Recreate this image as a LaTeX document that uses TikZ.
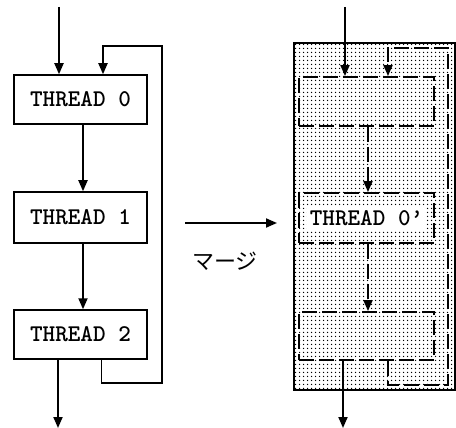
\documentclass[tikz,border=0pt]{standalone}
\usepackage{fontspec}
\newfontfamily\cjk{Noto Sans CJK JP}
\usetikzlibrary{arrows.meta,patterns.meta}
\begin{document}
\begin{tikzpicture}[x=1pt,y=-1pt,
  thr/.style={draw,line width=1.5pt,minimum width=133pt,inner sep=0pt,
    font=\fontsize{24}{26}\selectfont\ttfamily\bfseries},
  dbox/.style={draw,line width=1.9pt,dash pattern=on 15pt off 5pt,
    minimum width=135pt,inner sep=0pt},
  arr/.style={line width=1.9pt,-{Triangle[length=11pt,width=9pt]}},
  darr/.style={arr,dash pattern=on 15pt off 5pt},
]
\useasboundingbox (0,0) rectangle (456,428);
% ---------- left ----------
\node[thr,minimum height=49pt] (t0) at (80.5,99.5) {THREAD 0};
\node[thr,minimum height=51pt] (t1) at (80.5,217.5) {THREAD 1};
\node[thr,minimum height=49pt] (t2) at (80.5,334.5) {THREAD 2};
\coordinate (in0) at (59,7);
\coordinate (out0) at (58,428);
\coordinate (fb1) at (162,383);
\coordinate (fb2) at (162,46);
\draw[arr] (in0) -- (in0 |- t0.north);
\draw[arr] ([xshift=2.5pt]t0.south) -- ([xshift=2.5pt]t1.north);
\draw[arr] ([xshift=2.5pt]t1.south) -- ([xshift=2.5pt]t2.north);
\draw[arr] (out0 |- t2.south) -- (out0);
\draw[arr] ([xshift=21pt]t2.south) |- (fb1) -- (fb2) -| ([xshift=22.5pt]t0.north);
% ---------- middle ----------
\coordinate (m1) at (185,223);
\coordinate (m2) at (277,223);
\draw[arr] (m1) -- (m2);
\node[font=\cjk\fontsize{22}{24}\selectfont] (lbl) at (225,261) {マージ};
% ---------- right ----------
\node[draw,line width=1.5pt,pattern={Dots[distance=4pt,radius=0.9pt]},
  minimum width=161pt,minimum height=347pt,inner sep=0pt] (big) at (374.5,216.5) {};
\node[dbox,minimum height=49pt] (d0) at (366.5,101.5) {};
\node[dbox,minimum height=50pt] (d1) at (366.5,218) {};
\node[dbox,minimum height=48pt] (d2) at (366.5,336) {};
\node[fill=white,inner xsep=3pt,inner ysep=4pt,
  font=\fontsize{24}{26}\selectfont\ttfamily\bfseries] (lab) at (d1) {THREAD 0’};
\coordinate (in1) at (345,7);
\coordinate (out1) at (343,428);
\coordinate (gb1) at (448,385);
\coordinate (gb2) at (448,48);
\draw[arr] (in1) -- (in1 |- d0.north);
\draw[darr] ([xshift=1.5pt]d0.south) -- ([xshift=1.5pt]d1.north);
\draw[darr] ([xshift=1.5pt]d1.south) -- ([xshift=1.5pt]d2.north);
\draw[arr] (out1 |- d2.south) -- (out1);
\draw[darr] ([xshift=21.5pt]d2.south) |- (gb1) -- (gb2) -| ([xshift=21.5pt]d0.north);
\end{tikzpicture}
\end{document}
